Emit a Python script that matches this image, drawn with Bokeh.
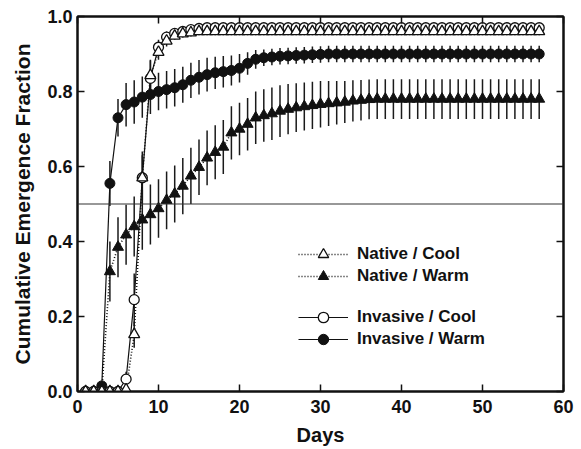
from bokeh.plotting import figure
from bokeh.models import (Range1d, LinearAxis, FixedTicker, PrintfTickFormatter,
                          Span, Legend, LegendItem, ColumnDataSource)
from bokeh.embed import file_html
from bokeh.resources import INLINE

# ---------------- data ----------------
days = list(range(1, 58))

x_ticks = [0, 10, 20, 30, 40, 50, 60]
y_ticks = [0.0, 0.2, 0.4, 0.6, 0.8, 1.0]

native_cool = [0.0, 0.0, 0.0, 0.0, 0.0, 0.005, 0.152, 0.57, 0.843, 0.905,
               0.935, 0.948, 0.954, 0.957, 0.96, 0.96, 0.96, 0.96, 0.96, 0.96,
               0.96, 0.96, 0.96, 0.96, 0.96, 0.96, 0.96, 0.96, 0.96, 0.96,
               0.96, 0.96, 0.96, 0.96, 0.96, 0.96, 0.96, 0.96, 0.96, 0.96,
               0.96, 0.96, 0.96, 0.96, 0.96, 0.96, 0.96, 0.96, 0.96, 0.96,
               0.96, 0.96, 0.96, 0.96, 0.96, 0.96, 0.96]
native_cool_err = [0, 0, 0, 0, 0, 0, 0.035, 0.06, 0.04, 0.02,
                   0.015, 0.01, 0.01, 0.01, 0.01, 0.01, 0.01, 0.01, 0.01, 0.01,
                   0.01, 0.01, 0.01, 0.01, 0.01, 0.01, 0.01, 0.01, 0.01, 0.01,
                   0.01, 0.01, 0.01, 0.01, 0.01, 0.01, 0.01, 0.01, 0.01, 0.01,
                   0.01, 0.01, 0.01, 0.01, 0.01, 0.01, 0.01, 0.01, 0.01, 0.01,
                   0.01, 0.01, 0.01, 0.01, 0.01, 0.01, 0.01]

native_warm = [0.0, 0.0, 0.002, 0.32, 0.385, 0.418, 0.44, 0.458, 0.472, 0.488,
               0.51, 0.527, 0.548, 0.575, 0.598, 0.623, 0.638, 0.652, 0.69, 0.70,
               0.713, 0.73, 0.736, 0.741, 0.748, 0.753, 0.757, 0.76, 0.763, 0.766,
               0.768, 0.77, 0.772, 0.775, 0.777, 0.779, 0.78, 0.78, 0.78, 0.78,
               0.78, 0.78, 0.78, 0.78, 0.78, 0.78, 0.78, 0.78, 0.78, 0.78,
               0.78, 0.78, 0.78, 0.78, 0.78, 0.78, 0.78]
native_warm_err = [0, 0, 0, 0.08, 0.08, 0.08, 0.08, 0.08, 0.08, 0.078,
                   0.077, 0.076, 0.075, 0.075, 0.074, 0.073, 0.072, 0.072, 0.071, 0.07,
                   0.07, 0.07, 0.07, 0.07, 0.069, 0.067, 0.065, 0.064, 0.063, 0.062,
                   0.06, 0.058, 0.056, 0.055, 0.054, 0.053, 0.053, 0.053, 0.053, 0.053,
                   0.053, 0.053, 0.053, 0.053, 0.053, 0.053, 0.053, 0.053, 0.053, 0.053,
                   0.053, 0.053, 0.053, 0.053, 0.053, 0.053, 0.053]

invasive_cool = [0.0, 0.0, 0.0, 0.0, 0.0, 0.033, 0.245, 0.57, 0.835, 0.918,
                 0.945, 0.955, 0.96, 0.965, 0.968, 0.97, 0.97, 0.97, 0.97, 0.97,
                 0.97, 0.97, 0.97, 0.97, 0.97, 0.97, 0.97, 0.97, 0.97, 0.97,
                 0.97, 0.97, 0.97, 0.97, 0.97, 0.97, 0.97, 0.97, 0.97, 0.97,
                 0.97, 0.97, 0.97, 0.97, 0.97, 0.97, 0.97, 0.97, 0.97, 0.97,
                 0.97, 0.97, 0.97, 0.97, 0.97, 0.97, 0.97]
invasive_cool_err = [0, 0, 0, 0, 0, 0.02, 0.07, 0.07, 0.05, 0.02,
                     0.015, 0.01, 0.01, 0.01, 0.01, 0.01, 0.01, 0.01, 0.01, 0.01,
                     0.01, 0.01, 0.01, 0.01, 0.01, 0.01, 0.01, 0.01, 0.01, 0.01,
                     0.01, 0.01, 0.01, 0.01, 0.01, 0.01, 0.01, 0.01, 0.01, 0.01,
                     0.01, 0.01, 0.01, 0.01, 0.01, 0.01, 0.01, 0.01, 0.01, 0.01,
                     0.01, 0.01, 0.01, 0.01, 0.01, 0.01, 0.01]

invasive_warm = [0.0, 0.0, 0.015, 0.555, 0.73, 0.765, 0.772, 0.785, 0.792, 0.80,
                 0.805, 0.81, 0.818, 0.83, 0.838, 0.845, 0.85, 0.853, 0.856, 0.862,
                 0.875, 0.886, 0.89, 0.892, 0.894, 0.895, 0.896, 0.897, 0.898, 0.899,
                 0.90, 0.90, 0.90, 0.90, 0.90, 0.90, 0.90, 0.90, 0.90, 0.90,
                 0.90, 0.90, 0.90, 0.90, 0.90, 0.90, 0.90, 0.90, 0.90, 0.90,
                 0.90, 0.90, 0.90, 0.90, 0.90, 0.90, 0.90]
invasive_warm_err = [0, 0, 0.01, 0.06, 0.05, 0.058, 0.058, 0.055, 0.052, 0.05,
                     0.05, 0.05, 0.048, 0.047, 0.046, 0.045, 0.043, 0.042, 0.04, 0.038,
                     0.03, 0.025, 0.022, 0.022, 0.022, 0.022, 0.022, 0.022, 0.022, 0.022,
                     0.022, 0.022, 0.022, 0.022, 0.022, 0.022, 0.022, 0.022, 0.022, 0.022,
                     0.022, 0.022, 0.022, 0.022, 0.022, 0.022, 0.022, 0.022, 0.022, 0.022,
                     0.022, 0.022, 0.022, 0.022, 0.022, 0.022, 0.022]

labels = ["Native / Cool", "Native / Warm", "Invasive / Cool", "Invasive / Warm"]

# ---------------- figure ----------------
FONT = "Liberation Sans"
TXT = "#111111"

p = figure(width=575, height=449, x_range=Range1d(0, 60), y_range=Range1d(0, 1.0),
           output_backend="svg", toolbar_location=None,
           min_border_left=77, min_border_right=12, min_border_top=16, min_border_bottom=58)
p.xgrid.visible = False
p.ygrid.visible = False
p.outline_line_color = "#111111"
p.outline_line_width = 2
p.background_fill_color = "white"
p.border_fill_color = "white"

bottom_ax = p.below[0]
left_ax = p.left[0]


def make_src(vals, errs):
    return ColumnDataSource(dict(x=days, y=vals,
                                 lo=[v - e for v, e in zip(vals, errs)],
                                 hi=[v + e for v, e in zip(vals, errs)]))


src_nc = make_src(native_cool, native_cool_err)
src_nw = make_src(native_warm, native_warm_err)
src_ic = make_src(invasive_cool, invasive_cool_err)
src_iw = make_src(invasive_warm, invasive_warm_err)

# error bars
for s in (src_nw, src_iw, src_nc, src_ic):
    p.segment(x0="x", y0="lo", x1="x", y1="hi", source=s, line_color="#1a1a1a", line_width=1.5)

# reference line at 0.5
p.add_layout(Span(location=0.5, dimension="width", line_color="#333333", line_width=1.2))

# lines
l_iw = p.line("x", "y", source=src_iw, line_color="#111111", line_width=1.2)
l_ic = p.line("x", "y", source=src_ic, line_color="#111111", line_width=1.2)
l_nw = p.line("x", "y", source=src_nw, line_color="#111111", line_width=1.6, line_dash="1 2")
l_nc = p.line("x", "y", source=src_nc, line_color="#111111", line_width=1.6, line_dash="1 2")

# markers
m_iw = p.scatter("x", "y", source=src_iw, marker="circle", size=10,
                 fill_color="#111111", line_color="#111111", line_width=1)
m_ic = p.scatter("x", "y", source=src_ic, marker="circle", size=10,
                 fill_color="white", line_color="#111111", line_width=1.3)
m_nw = p.scatter("x", "y", source=src_nw, marker="triangle", size=11,
                 fill_color="#111111", line_color="#111111", line_width=1)
m_nc = p.scatter("x", "y", source=src_nc, marker="triangle", size=11,
                 fill_color="white", line_color="#111111", line_width=1.3)

# axes
bottom_ax.ticker = FixedTicker(ticks=x_ticks)
left_ax.ticker = FixedTicker(ticks=y_ticks)
left_ax.formatter = PrintfTickFormatter(format="%.1f")
bottom_ax.axis_label = "Days"
left_ax.axis_label = "Cumulative Emergence Fraction"

top_ax = LinearAxis(ticker=FixedTicker(ticks=x_ticks),
                    major_label_overrides={t: "" for t in x_ticks},
                    major_label_standoff=0)
right_ax = LinearAxis(ticker=FixedTicker(ticks=y_ticks),
                      major_label_overrides={t: "" for t in y_ticks},
                      major_label_standoff=0)
p.add_layout(top_ax, "above")
p.add_layout(right_ax, "right")

for ax in (bottom_ax, left_ax, top_ax, right_ax):
    ax.major_tick_in = 7
    ax.major_tick_out = 0
    ax.minor_tick_line_color = None
    ax.axis_line_color = "#111111"
    ax.axis_line_width = 2
    ax.major_tick_line_color = "#111111"
    ax.major_tick_line_width = 1.5

for ax in (bottom_ax, left_ax):
    ax.major_label_text_font = FONT
    ax.major_label_text_font_style = "bold"
    ax.major_label_text_font_size = "18px"
    ax.major_label_text_color = TXT
    ax.axis_label_text_font = FONT
    ax.axis_label_text_font_style = "bold"
    ax.axis_label_text_color = TXT

bottom_ax.axis_label_text_font_size = "20px"
left_ax.axis_label_text_font_size = "21px"
bottom_ax.major_label_standoff = 8
bottom_ax.axis_label_standoff = 8
left_ax.major_label_standoff = 5
left_ax.axis_label_standoff = 10


# legends: one per entry so the two groups keep their own spacing
def make_legend(label, renderers, bottom_offset):
    lg = Legend(items=[LegendItem(label=label, renderers=renderers)],
                location=(221, bottom_offset))
    lg.glyph_width = 50
    lg.glyph_height = 26
    lg.label_height = 26
    lg.padding = 0
    lg.margin = 0
    lg.label_standoff = 9
    lg.border_line_color = None
    lg.background_fill_alpha = 0
    lg.label_text_font = FONT
    lg.label_text_font_style = "bold"
    lg.label_text_font_size = "17px"
    lg.label_text_color = TXT
    p.add_layout(lg)
    return lg


make_legend(labels[0], [l_nc, m_nc], 124)
make_legend(labels[1], [l_nw, m_nw], 102)
make_legend(labels[2], [l_ic, m_ic], 61)
make_legend(labels[3], [l_iw, m_iw], 39)

open("out.html", "w").write(file_html(p, INLINE))
